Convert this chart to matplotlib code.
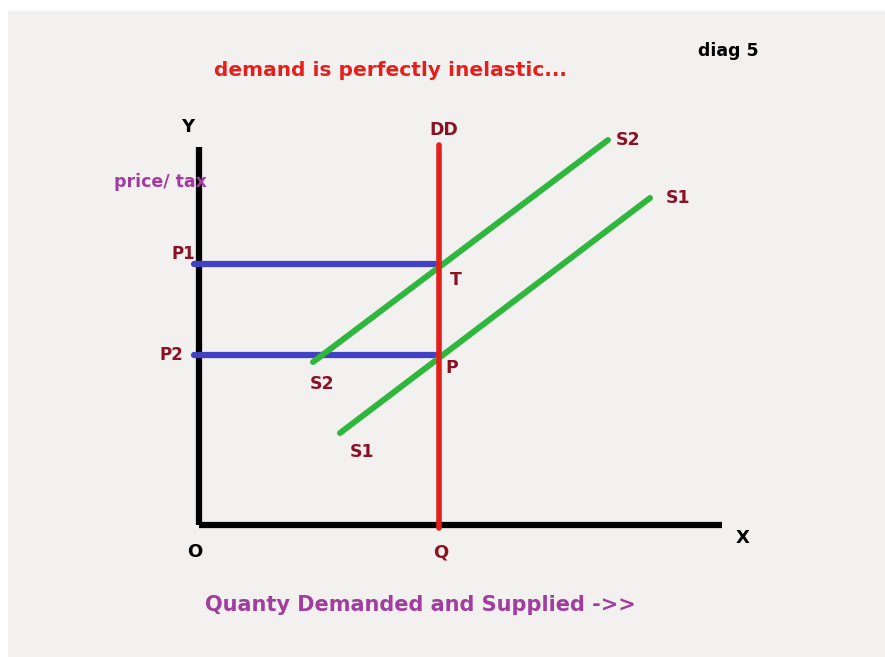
import matplotlib
matplotlib.use("Agg")
import matplotlib.pyplot as plt
from matplotlib.patches import Rectangle

# diagram values (units: price / quantity, origin at O)
axis_x_end = 52.3
axis_y_end = 37.8
q_demand = 24.0
p1 = 26.1
p2 = 17.0
s2_q = [11.4, 40.9]
s2_p = [16.3, 38.5]
s1_q = [14.1, 45.1]
s1_p = [9.2, 32.7]

red = "#e3201c"
dark_red = "#8a1224"
purple = "#a23c9e"
blue = "#4141c4"
green = "#2fb63c"

fig = plt.figure(figsize=(8.85, 6.57), dpi=100)
fig.patch.set_facecolor("white")
# light grey backdrop of the scanned page
fig.patches.append(Rectangle((8 / 885, 0), 1, 646 / 657, transform=fig.transFigure,
                             facecolor="#f2f1f0", edgecolor="none", zorder=-10))

ax = fig.add_axes([0, 0, 1, 1])
ax.patch.set_visible(False)
ax.set_xlim(-19.9, 68.6)
ax.set_ylim(-13.2, 52.5)
ax.axis("off")

# axes of the diagram
ax.plot([0, 0], [0, axis_y_end], color="black", lw=4.5, solid_capstyle="butt")
ax.plot([0, axis_x_end], [0, 0], color="black", lw=4.5, solid_capstyle="butt")

# price lines
ax.plot([-0.5, q_demand + 0.2], [p1, p1], color=blue, lw=4.5, solid_capstyle="round")
ax.plot([-0.5, q_demand], [p2, p2], color=blue, lw=4.5, solid_capstyle="round")

# supply curves
ax.plot(s2_q, s2_p, color=green, lw=4.3, solid_capstyle="round")
ax.plot(s1_q, s1_p, color=green, lw=4.3, solid_capstyle="round")

# demand (perfectly inelastic)
ax.plot([q_demand, q_demand], [-0.3, axis_y_end + 0.2], color=red, lw=4,
        solid_capstyle="round", zorder=3)

fnt = dict(family="DejaVu Sans", fontweight="bold")

ax.text(19.1, 45.5, "demand is perfectly inelastic...", color=red, fontsize=14.5,
        ha="center", va="center", **fnt)
ax.text(52.9, 47.4, "diag 5", color="black", fontsize=12.5, ha="center", va="center", **fnt)

ax.text(-1.1, 39.8, "Y", color="black", fontsize=13, ha="center", va="center", **fnt)
ax.text(-3.9, 34.3, "price/ tax", color=purple, fontsize=12.5, ha="center", va="center", **fnt)
ax.text(-1.6, p1 + 1.0, "P1", color=dark_red, fontsize=12, ha="center", va="center", **fnt)
ax.text(-2.8, p2, "P2", color=dark_red, fontsize=12, ha="center", va="center", **fnt)

ax.text(q_demand + 0.5, 39.5, "DD", color=dark_red, fontsize=12.5, ha="center", va="center", **fnt)
ax.text(s2_q[1] + 2.0, s2_p[1], "S2", color=dark_red, fontsize=12.5, ha="center", va="center", **fnt)
ax.text(s1_q[1] + 2.8, s1_p[1], "S1", color=dark_red, fontsize=12.5, ha="center", va="center", **fnt)
ax.text(s2_q[0] + 0.9, s2_p[0] - 2.2, "S2", color=dark_red, fontsize=12.5, ha="center", va="center", **fnt)
ax.text(s1_q[0] + 2.2, s1_p[0] - 1.9, "S1", color=dark_red, fontsize=12.5, ha="center", va="center", **fnt)
ax.text(q_demand + 1.7, p1 - 1.6, "T", color=dark_red, fontsize=12.5, ha="center", va="center", **fnt)
ax.text(q_demand + 1.3, p2 - 1.3, "P", color=dark_red, fontsize=12.5, ha="center", va="center", **fnt)

ax.text(-0.4, -2.7, "O", color="black", fontsize=13, ha="center", va="center", **fnt)
ax.text(q_demand + 0.2, -2.7, "Q", color=dark_red, fontsize=13, ha="center", va="center", **fnt)
ax.text(axis_x_end + 2.1, -1.3, "X", color="black", fontsize=13, ha="center", va="center", **fnt)

ax.text(22.1, -8.0, "Quanty Demanded and Supplied ->>", color=purple, fontsize=15,
        ha="center", va="center", **fnt)

fig.savefig("out.png", dpi=100)
